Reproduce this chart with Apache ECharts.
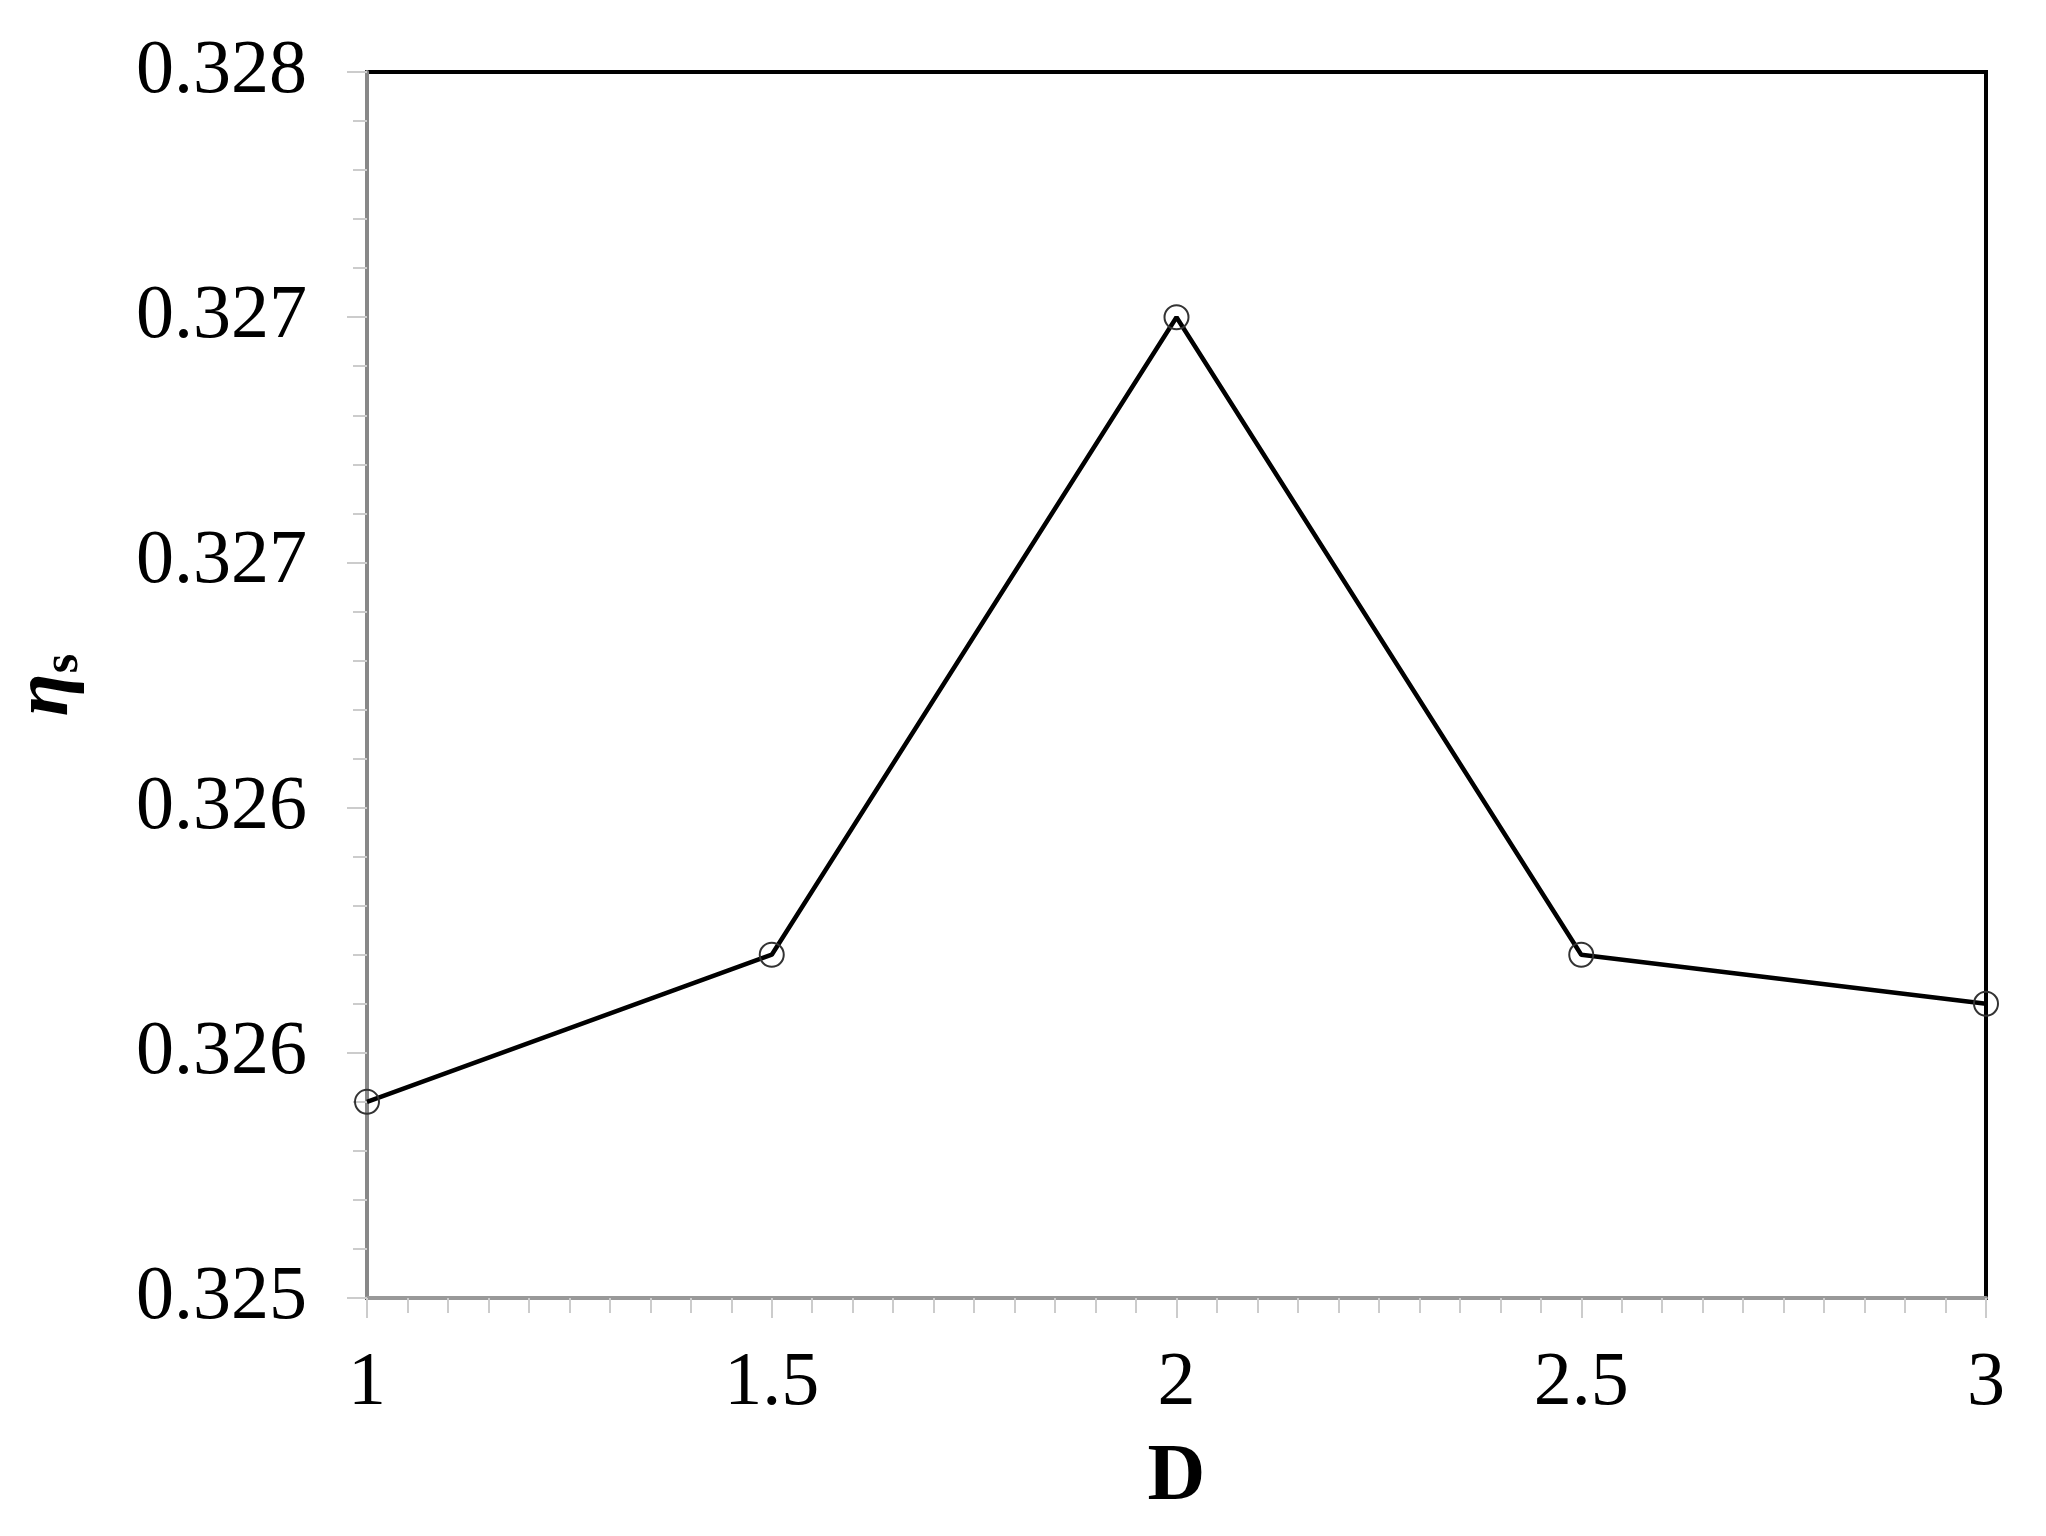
<!DOCTYPE html>
<html>
<head>
<meta charset="utf-8">
<title>eta_s vs D</title>
<script src="https://cdn.jsdelivr.net/npm/echarts@6/dist/echarts.min.js"></script>
<style>
  html, body { margin: 0; padding: 0; background: #fff; }
  #myChart { width: 2046px; height: 1536px; }
</style>
</head>
<body>
<div id="myChart"></div>
<script>
// data
const dValues = [1, 1.5, 2, 2.5, 3];
const etaValues = [0.32548, 0.32584, 0.3274, 0.32584, 0.32572];
const xTicks = [1, 1.5, 2, 2.5, 3];
const yTicks = [0.325, 0.3256, 0.3262, 0.3268, 0.3274, 0.328];

const font = '"Liberation Serif", "Times New Roman", serif';

let myChart = echarts.init(document.getElementById('myChart'));
myChart.setOption({
  backgroundColor: '#fff',
  animation: false,
  grid: {
    left: 363,
    right: 60,
    top: 72,
    bottom: 238,
    show: true,
    borderColor: '#000',   // top and right frame
    borderWidth: 4
  },
  xAxis: {
    type: 'value',
    min: xTicks[0],
    max: xTicks[xTicks.length - 1],
    interval: xTicks[1] - xTicks[0],
    name: 'D',
    nameLocation: 'middle',
    nameGap: 140,
    nameTextStyle: { fontFamily: font, fontSize: 80, fontWeight: 'bold', color: '#000' },
    axisLine: { show: true, onZero: false, lineStyle: { color: '#999', width: 4 } },
    axisTick: { show: true, length: 20, lineStyle: { color: '#ccc', width: 2 } },
    minorTick: { show: true, splitNumber: 10, length: 15, lineStyle: { color: '#ccc', width: 2 } },
    splitLine: { show: false },
    axisLabel: {
      margin: 48,
      fontFamily: font,
      fontSize: 76,
      color: '#000',
      formatter: v => String(v)
    }
  },
  yAxis: {
    type: 'value',
    min: yTicks[0],
    max: yTicks[yTicks.length - 1],
    interval: 0.0006,
    name: '{a|η}{b|s}',
    nameLocation: 'middle',
    nameRotate: 90,
    nameGap: 278,
    nameTextStyle: {
      rich: {
        a: { fontFamily: font, fontSize: 78, fontWeight: 'bold', fontStyle: 'italic', color: '#000' },
        b: { fontFamily: font, fontSize: 50, fontWeight: 'bold', color: '#000', padding: [34, 0, 0, 0] }
      }
    },
    axisLine: { show: true, onZero: false, lineStyle: { color: '#888', width: 4 } },
    axisTick: { show: true, length: 20, lineStyle: { color: '#ccc', width: 2 } },
    minorTick: { show: true, splitNumber: 5, length: 14, lineStyle: { color: '#ccc', width: 2 } },
    splitLine: { show: false },
    axisLabel: {
      margin: 60,
      fontFamily: font,
      fontSize: 76,
      color: '#000',
      formatter: v => v.toFixed(3)
    }
  },
  series: [{
    type: 'line',
    data: dValues.map((d, i) => [d, etaValues[i]]),
    symbol: 'circle',
    symbolSize: 24,
    lineStyle: { color: '#000', width: 4.5 },
    itemStyle: { color: 'rgba(0,0,0,0)', borderColor: '#333', borderWidth: 2 },
    z: 3
  }]
});
</script>
</body>
</html>
